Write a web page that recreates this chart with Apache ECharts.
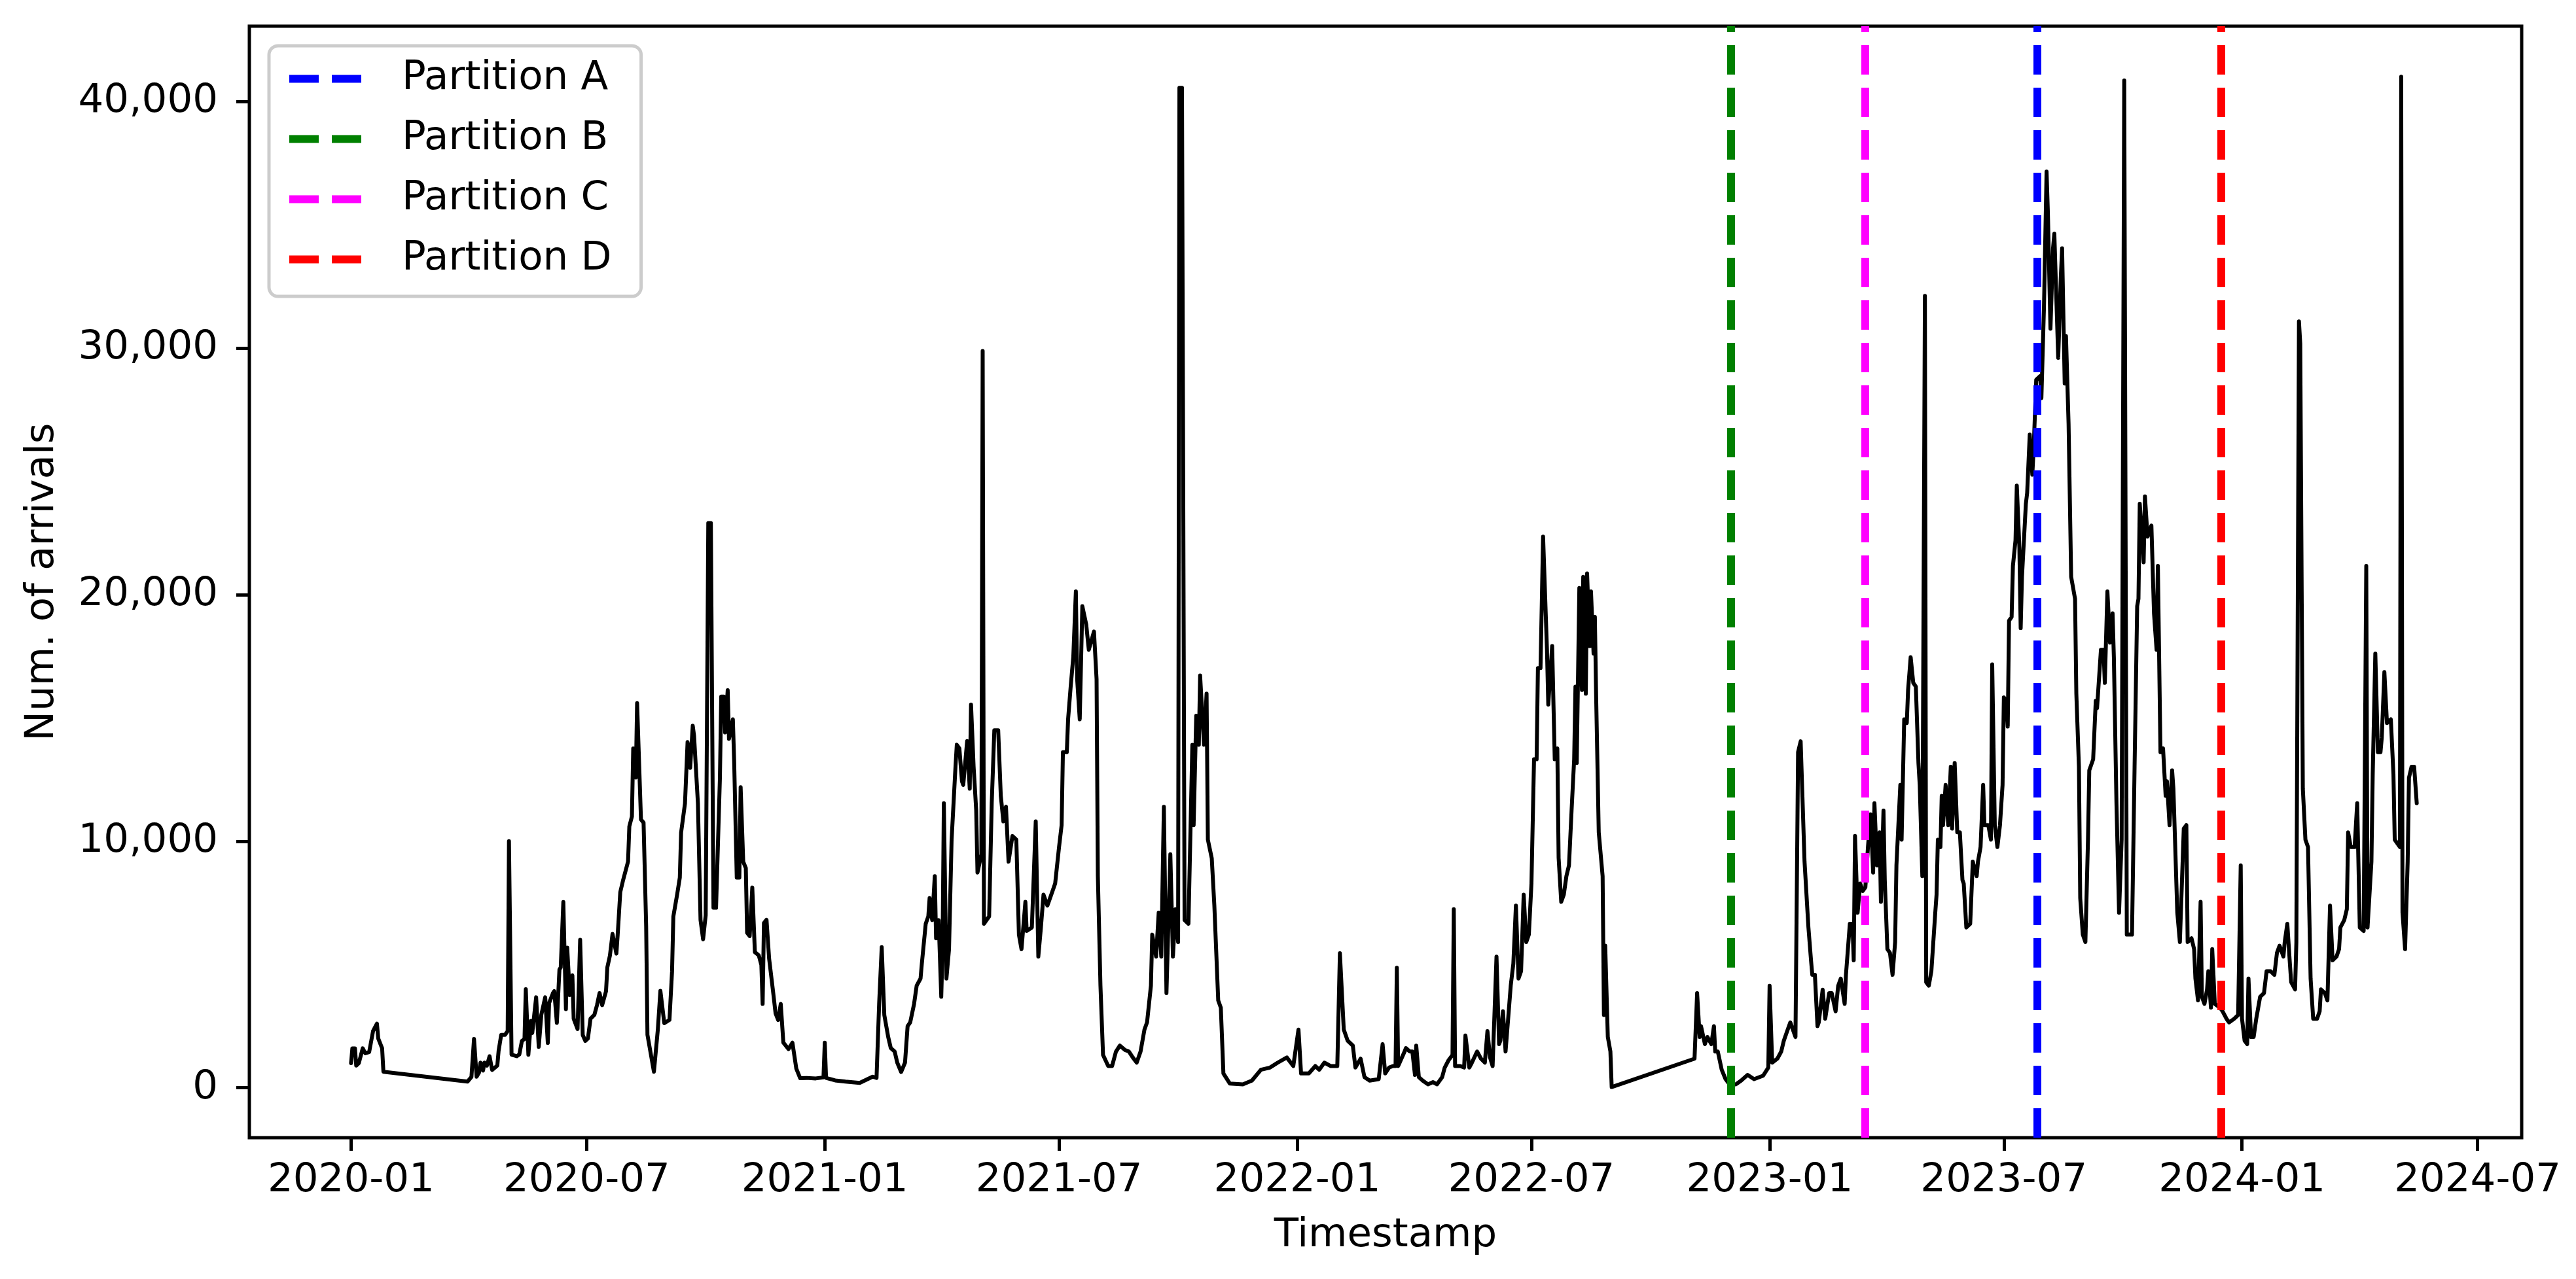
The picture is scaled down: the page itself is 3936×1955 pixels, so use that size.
<!DOCTYPE html>
<html>
<head>
<meta charset="utf-8">
<script src="https://cdn.jsdelivr.net/npm/echarts@6/dist/echarts.min.js"></script>
<style>
html,body{margin:0;padding:0;background:#ffffff;}
#chart{width:3936px;height:1955px;}
</style>
</head>
<body>
<div id="chart"></div>
<script>
// ---------- DATA ----------
const arrivals2020 = [
['2020-01-01',1000],['2020-01-02',1600],['2020-01-04',1600],['2020-01-05',900],['2020-01-07',1000],['2020-01-10',1600],['2020-01-12',1400],['2020-01-15',1450],['2020-01-18',2300],['2020-01-21',2600],['2020-01-22',2000],['2020-01-25',1600],['2020-01-26',650],
['2020-03-31',250],['2020-04-03',440],['2020-04-05',1980],['2020-04-07',450],['2020-04-09',630],['2020-04-10',1020],['2020-04-12',700],['2020-04-13',1020],['2020-04-15',900],['2020-04-17',1280],['2020-04-19',720],['2020-04-23',900],['2020-04-24',1500],['2020-04-26',2150],['2020-04-29',2150],['2020-05-01',2300],['2020-05-02',10000],['2020-05-03',10000],['2020-05-04',1340],['2020-05-08',1280],['2020-05-10',1350],['2020-05-12',1900],['2020-05-14',1980],['2020-05-15',4000],['2020-05-17',1340],['2020-05-19',2710],['2020-05-20',2220],['2020-05-23',3670],['2020-05-25',1660],['2020-05-27',2960],['2020-05-30',3670],['2020-06-01',1820],['2020-06-02',3430],['2020-06-05',3840],['2020-06-06',3920],['2020-06-08',2630],['2020-06-10',4800],['2020-06-11',4880],['2020-06-13',7530],['2020-06-15',3190],['2020-06-16',5680],['2020-06-18',3760],['2020-06-20',4560],['2020-06-21',2800],['2020-06-24',2380],['2020-06-26',6000],['2020-06-28',2140],['2020-06-30',1900],['2020-07-02',2000],['2020-07-04',2800],['2020-07-07',2960],['2020-07-09',3350],['2020-07-11',3840],['2020-07-13',3350],['2020-07-16',3920],['2020-07-17',4880],['2020-07-19',5360],['2020-07-21',6240],['2020-07-24',5440],['2020-07-25',6200],['2020-07-27',7935],
['2020-07-29',8380],['2020-08-02',9170],['2020-08-03',10600],['2020-08-05',11000],['2020-08-06',13760],['2020-08-08',12580],['2020-08-09',15600],['2020-08-12',10880],['2020-08-14',10750],['2020-08-16',6550],['2020-08-17',2150],['2020-08-22',650],['2020-08-25',2350],['2020-08-27',3930],['2020-08-30',2620],['2020-08-31',2620],['2020-09-03',2750],['2020-09-05',4710],['2020-09-06',6940],['2020-09-09',7860],['2020-09-11',8520],['2020-09-12',10350],['2020-09-15',11530],['2020-09-17',14020],['2020-09-19',12970],['2020-09-21',14680],['2020-09-22',14280],['2020-09-25',11530],['2020-09-27',6810],['2020-09-29',6020],['2020-10-01',7000],['2020-10-03',22900],['2020-10-05',22900],['2020-10-07',7300],['2020-10-09',7300],['2020-10-12',12580],['2020-10-13',15860],['2020-10-15',15860],['2020-10-16',14410],['2020-10-18',16120],['2020-10-19',14150],['2020-10-22',14940],['2020-10-23',13230],['2020-10-25',8520],['2020-10-27',8520],['2020-10-28',12190],['2020-10-30',9170],['2020-11-01',8910],['2020-11-02',6280],['2020-11-04',6150],['2020-11-06',8120],['2020-11-08',5500],['2020-11-11',5370],['2020-11-13',4980],['2020-11-14',3400],['2020-11-15',6680],['2020-11-17',6810],['2020-11-19',5240],['2020-11-20',5240],['2020-11-22',3930],['2020-11-24',3010],['2020-11-26',2750],['2020-11-28',3400],['2020-11-30',1830],['2020-12-02',1700],['2020-12-04',1570],['2020-12-07',1830],['2020-12-10',780],['2020-12-13',390],['2020-12-18',400],['2020-12-25',380],['2020-12-31',420]
];
const arrivals2021 = [
['2021-01-01',1830],['2021-01-02',400],['2021-01-09',300],['2021-01-17',250],['2021-01-28',200],['2021-02-07',450],['2021-02-10',400],['2021-02-12',3400],['2021-02-14',5700],['2021-02-16',2950],['2021-02-19',2060],['2021-02-21',1610],['2021-02-24',1470],['2021-02-26',1020],['2021-03-01',640],['2021-03-04',1020],['2021-03-06',2500],['2021-03-08',2650],['2021-03-11',3400],['2021-03-13',4140],['2021-03-16',4430],['2021-03-17',5030],['2021-03-20',6650],['2021-03-22',6950],['2021-03-23',7690],['2021-03-25',6800],['2021-03-27',8580],['2021-03-28',6060],['2021-03-30',6800],['2021-04-01',3690],['2021-04-02',5620],['2021-04-03',11540],['2021-04-05',4430],['2021-04-07',5620],['2021-04-09',10060],['2021-04-12',13020],['2021-04-13',13910],['2021-04-15',13760],['2021-04-17',12430],['2021-04-18',12280],['2021-04-21',14060],['2021-04-23',12130],['2021-04-24',15540],['2021-04-26',13020],['2021-04-28',11250],['2021-04-29',8730],['2021-05-02',9470],['2021-05-03',29880],['2021-05-04',6650],['2021-05-08',6950],['2021-05-10',11540],['2021-05-12',14500],['2021-05-15',14500],['2021-05-17',11840],['2021-05-19',10800],['2021-05-21',11400],['2021-05-23',9170],['2021-05-26',10210],['2021-05-29',10060],['2021-05-31',6210],['2021-06-02',5620],['2021-06-05',7540],['2021-06-06',6360],['2021-06-10',6500],['2021-06-13',10800],['2021-06-15',5320],['2021-06-17',6500],['2021-06-19',7830],['2021-06-22',7390],['2021-06-25',7830],['2021-06-28',8280],['2021-07-01',9760],['2021-07-03',10650],['2021-07-04',13610],['2021-07-07',13610],['2021-07-08',14940],['2021-07-10',16270],['2021-07-12',17460],['2021-07-14',20125],['2021-07-15',16570],['2021-07-17',14940],['2021-07-19',19530],['2021-07-20',19530],['2021-07-22',18790],['2021-07-24',17760],['2021-07-25',17760],['2021-07-28',18500],['2021-07-30',16570],['2021-07-31',8580],['2021-08-02',4140],['2021-08-04',1330],['2021-08-08',880],['2021-08-11',880],['2021-08-14',1470],['2021-08-17',1710],['2021-08-21',1530],['2021-08-24',1470],['2021-08-27',1230],['2021-08-30',1020],['2021-09-02',1470],['2021-09-05',2360],['2021-09-07',2650],['2021-09-10',4140],['2021-09-11',6210],['2021-09-14',5320],['2021-09-16',7100],['2021-09-18',5320],['2021-09-20',11390],['2021-09-22',3840],['2021-09-25',9470],['2021-09-27',5320],['2021-09-29',7240],['2021-10-01',5910],['2021-10-02',40550],['2021-10-04',40550],['2021-10-06',6800],['2021-10-09',6650],['2021-10-12',13910],['2021-10-13',10650],['2021-10-15',15090],['2021-10-17',13910],['2021-10-18',16720],['2021-10-21',13910],['2021-10-23',15980],['2021-10-24',10060],['2021-10-27',9310],['2021-10-29',7390],['2021-11-01',3540],['2021-11-03',3250],['2021-11-05',580],['2021-11-10',170],['2021-11-20',140],['2021-11-27',290],['2021-12-04',730],['2021-12-11',820],['2021-12-17',1020],['2021-12-24',1230],['2021-12-29',880]
];
const arrivals2022 = [
['2022-01-02',2360],['2022-01-04',580],['2022-01-10',580],['2022-01-15',880],['2022-01-18',730],['2022-01-22',1020],['2022-01-27',880],['2022-02-01',880],['2022-02-03',5460],['2022-02-06',2360],['2022-02-09',1910],['2022-02-13',1710],['2022-02-15',820],['2022-02-19',1180],['2022-02-22',430],['2022-02-26',290],['2022-03-05',350],['2022-03-08',1770],['2022-03-10',580],['2022-03-13',820],['2022-03-16',880],['2022-03-18',880],['2022-03-19',4870],['2022-03-20',880],['2022-03-25',1470],['2022-03-26',1610],['2022-03-29',1470],['2022-03-31',1470],['2022-04-02',520],['2022-04-03',1710],['2022-04-05',430],['2022-04-08',290],['2022-04-12',140],['2022-04-16',230],['2022-04-19',140],['2022-04-23',430],['2022-04-25',820],['2022-04-28',1120],['2022-05-01',1330],['2022-05-02',7240],['2022-05-03',880],['2022-05-07',880],['2022-05-10',820],['2022-05-11',2120],['2022-05-14',820],['2022-05-16',1020],['2022-05-20',1470],['2022-05-23',1180],['2022-05-26',1020],['2022-05-28',2300],['2022-05-30',1230],['2022-06-01',880],['2022-06-04',5320],['2022-06-06',1770],['2022-06-07',1910],['2022-06-09',3100],['2022-06-11',1470],['2022-06-13',2800],['2022-06-15',4140],['2022-06-17',5030],['2022-06-19',7390],['2022-06-21',4430],['2022-06-23',4730],['2022-06-25',7830],['2022-06-27',5910],['2022-06-29',6210],['2022-07-01',8280],['2022-07-03',13320],['2022-07-05',13320],['2022-07-06',17020],['2022-07-08',17020],['2022-07-10',22350],['2022-07-13',17760],['2022-07-14',15540],['2022-07-17',17910],['2022-07-19',13320],['2022-07-21',13760],['2022-07-22',9320],['2022-07-24',7540],['2022-07-26',7830],['2022-07-28',8580],['2022-07-30',9020],['2022-08-01',11240],['2022-08-03',13320],['2022-08-04',16270],['2022-08-05',13170],['2022-08-07',20270],['2022-08-09',16130],['2022-08-10',20720],['2022-08-12',15980],['2022-08-13',20860],['2022-08-15',17910],['2022-08-16',20130],['2022-08-18',17610],['2022-08-19',19090],['2022-08-20',15840],['2022-08-22',10360],['2022-08-25',8580],['2022-08-26',2950],['2022-08-27',5760],['2022-08-29',2060],['2022-08-31',1470],['2022-09-01',30],
['2022-11-04',1180],['2022-11-06',3840],['2022-11-08',2060],['2022-11-09',2500],['2022-11-12',1770],['2022-11-14',2060],['2022-11-17',1770],['2022-11-19',2500],['2022-11-20',1470],['2022-11-22',1470],['2022-11-25',730],['2022-11-28',350],['2022-12-01',140],['2022-12-06',140],['2022-12-10',290],['2022-12-15',520],['2022-12-20',350],['2022-12-27',490],['2022-12-31',820]
];
const arrivals2023 = [
['2023-01-01',4140],['2023-01-03',1020],['2023-01-07',1180],['2023-01-10',1470],['2023-01-12',1910],['2023-01-15',2360],['2023-01-17',2650],['2023-01-21',2060],['2023-01-23',13610],['2023-01-25',14050],['2023-01-28',9170],['2023-01-31',6500],['2023-02-02',5170],['2023-02-03',4580],['2023-02-05',4580],['2023-02-07',2500],['2023-02-08',2650],['2023-02-11',3980],['2023-02-13',2800],['2023-02-16',3840],['2023-02-18',3840],['2023-02-21',3100],['2023-02-23',4140],['2023-02-25',4430],['2023-02-28',3400],['2023-03-01',4580],['2023-03-04',6650],['2023-03-06',6650],['2023-03-07',5170],['2023-03-08',10210],['2023-03-10',7100],['2023-03-12',8280],['2023-03-14',7980],['2023-03-16',8130],['2023-03-18',9760],['2023-03-20',11090],['2023-03-22',8730],['2023-03-23',11540],['2023-03-25',9020],['2023-03-27',10360],['2023-03-28',7540],['2023-03-30',11240],['2023-03-31',8430],['2023-04-02',5620],['2023-04-04',5470],['2023-04-06',4580],['2023-04-08',5910],['2023-04-09',9020],['2023-04-12',12280],['2023-04-13',10060],['2023-04-15',14940],['2023-04-17',14790],['2023-04-18',16130],['2023-04-20',17460],['2023-04-22',16420],['2023-04-24',16270],['2023-04-26',13170],['2023-04-27',12280],['2023-04-29',8580],['2023-05-01',32110],['2023-05-02',4280],['2023-05-04',4140],['2023-05-06',4730],['2023-05-09',7100],['2023-05-10',7830],['2023-05-11',10060],['2023-05-13',9760],['2023-05-14',11840],['2023-05-15',10650],['2023-05-17',12280],['2023-05-19',10650],['2023-05-21',13020],['2023-05-22',10510],['2023-05-24',13170],['2023-05-26',10360],['2023-05-28',10360],['2023-05-30',8430],['2023-05-31',8280],['2023-06-02',6500],['2023-06-05',6650],['2023-06-07',9170],['2023-06-10',8580],['2023-06-11',9170],['2023-06-13',9760],['2023-06-15',12280],['2023-06-16',10650],['2023-06-19',10650],['2023-06-21',10060],['2023-06-22',17170],['2023-06-24',10650],['2023-06-26',9760],['2023-06-28',10650],['2023-06-30',12280],['2023-07-01',15830],['2023-07-03',15690],['2023-07-04',14650],['2023-07-05',18940],['2023-07-07',19090],['2023-07-08',21160],['2023-07-10',22200],['2023-07-11',24420],['2023-07-13',21900],['2023-07-14',18640],['2023-07-15',20720],['2023-07-18',23680],['2023-07-19',24120],['2023-07-21',26490],['2023-07-23',24860],['2023-07-24',25900],['2023-07-26',28710],['2023-07-29',28860],['2023-07-30',27970],['2023-08-01',31670],['2023-08-03',37150],['2023-08-04',35520],['2023-08-06',30780],['2023-08-08',34040],['2023-08-09',34630],['2023-08-12',29600],['2023-08-14',32860],['2023-08-15',34040],['2023-08-17',28560],['2023-08-18',30480],['2023-08-20',26930],['2023-08-22',20720],['2023-08-25',19830],['2023-08-26',15980],['2023-08-28',13020],['2023-08-29',7690],['2023-08-31',6210],['2023-09-02',5910],['2023-09-04',10060],['2023-09-05',12870],['2023-09-08',13320],['2023-09-10',15690],['2023-09-11',15390],['2023-09-14',17760],['2023-09-16',17760],['2023-09-17',16420],['2023-09-19',20130],['2023-09-21',18050],['2023-09-23',19240],['2023-09-24',17460],['2023-09-26',11540],['2023-09-28',7100],['2023-09-30',10060],['2023-10-02',40850],['2023-10-04',6210],['2023-10-08',6210],['2023-10-10',13020],['2023-10-12',19530],['2023-10-13',19830],['2023-10-14',23680],['2023-10-17',21310],['2023-10-18',23980],['2023-10-20',22350],['2023-10-23',22800],['2023-10-25',19240],['2023-10-27',17760],['2023-10-28',21160],['2023-10-30',13610],['2023-11-01',13760],['2023-11-03',11840],['2023-11-04',12430],['2023-11-06',10650],['2023-11-08',12870],['2023-11-09',12130],['2023-11-12',7100],['2023-11-14',5910],['2023-11-17',10510],['2023-11-19',10650],['2023-11-20',5910],['2023-11-23',6060],['2023-11-25',5620],['2023-11-26',4430],['2023-11-28',3540],['2023-11-30',7540],['2023-12-01',3690],['2023-12-03',3400],['2023-12-05',3990],['2023-12-06',4730],['2023-12-08',3250],['2023-12-09',5620],['2023-12-11',3400],['2023-12-15',3250],['2023-12-17',3100],['2023-12-20',2800],['2023-12-22',2650],['2023-12-26',2800],['2023-12-29',2950],['2023-12-31',9020]
];
const arrivals2024 = [
['2024-01-01',2800],['2024-01-03',1910],['2024-01-05',1770],['2024-01-06',4430],['2024-01-08',2060],['2024-01-10',2060],['2024-01-12',2800],['2024-01-15',3690],['2024-01-18',3840],['2024-01-20',4730],['2024-01-23',4730],['2024-01-26',4580],['2024-01-28',5470],['2024-01-30',5760],['2024-02-02',5320],['2024-02-03',5910],['2024-02-05',6650],['2024-02-07',5030],['2024-02-08',4280],['2024-02-11',3990],['2024-02-12',5910],['2024-02-14',31080],['2024-02-15',30180],['2024-02-17',12130],['2024-02-19',10060],['2024-02-21',9760],['2024-02-23',4430],['2024-02-25',2800],['2024-02-28',2800],['2024-03-01',3100],['2024-03-02',3990],['2024-03-05',3840],['2024-03-07',3540],['2024-03-09',7390],['2024-03-10',7390],['2024-03-11',5170],['2024-03-14',5320],['2024-03-16',5620],['2024-03-17',6500],['2024-03-20',6800],['2024-03-22',7240],['2024-03-23',10360],['2024-03-25',9760],['2024-03-28',9760],['2024-03-30',11540],['2024-04-01',6500],['2024-04-04',6360],['2024-04-06',21160],['2024-04-07',6500],['2024-04-08',6500],['2024-04-10',9170],['2024-04-11',12720],['2024-04-13',17610],['2024-04-15',13610],['2024-04-17',13610],['2024-04-18',14200],['2024-04-20',16860],['2024-04-22',14790],['2024-04-25',14940],['2024-04-27',12720],['2024-04-28',10060],['2024-05-02',9760],['2024-05-03',41000],['2024-05-04',7100],['2024-05-06',5620],['2024-05-08',9170],['2024-05-09',12570],['2024-05-11',13020],['2024-05-13',13020],['2024-05-15',11540]
];

const partitionNames  = ['Partition A', 'Partition B', 'Partition C', 'Partition D'];
const partitionDates  = ['2023-07-27', '2022-12-02', '2023-03-16', '2023-12-16'];
const partitionColors = ['#0000ff', '#008000', '#ff00ff', '#ff0000'];

const xTickLabels = ['2020-01','2020-07','2021-01','2021-07','2022-01','2022-07','2023-01','2023-07','2024-01','2024-07'];
const yTickValues = [0, 10000, 20000, 30000, 40000];

// ---------- BUILD ----------
function toTime(s) { const p = s.split('-'); return new Date(+p[0], +p[1] - 1, p[2] ? +p[2] : 1).getTime(); }
const arrivals = [].concat(arrivals2020, arrivals2021, arrivals2022, arrivals2023, arrivals2024)
  .map(d => [toTime(d[0]), d[1]]);
const FONT = 'DejaVu Sans';
const FS = 61;
const xTickValues = xTickLabels.map(toTime);
function fmtX(v) { const d = new Date(v); return d.getFullYear() + '-' + String(d.getMonth() + 1).padStart(2, '0'); }

const DASH = [45, 20];
const partitionSeries = partitionNames.map((name, i) => ({
  name: name,
  type: 'line',
  data: [],
  symbol: 'none',
  color: partitionColors[i],
  lineStyle: { color: partitionColors[i], width: 12, type: DASH },
  z: 5,
  markLine: {
    silent: true,
    symbol: ['none', 'none'],
    label: { show: false },
    animation: false,
    lineStyle: { color: partitionColors[i], width: 12, type: DASH, cap: 'butt' },
    data: [{ xAxis: toTime(partitionDates[i]) }]
  }
}));

const chart = echarts.init(document.getElementById('chart'), null, { renderer: 'canvas' });
chart.setOption({
  animation: false,
  backgroundColor: '#ffffff',
  grid: { left: 381, right: 83, top: 40, bottom: 216, show: true, borderColor: '#000', borderWidth: 5, backgroundColor: 'transparent', containLabel: false },
  legend: {
    data: partitionNames,
    orient: 'vertical',
    left: 411, top: 70,
    itemWidth: 111, itemHeight: 14, itemGap: 31,
    padding: [20, 45, 26, 25],
    backgroundColor: 'rgba(255,255,255,0.8)',
    borderColor: '#cccccc', borderWidth: 5, borderRadius: 14,
    lineStyle: { width: 12, type: DASH },
    itemStyle: { opacity: 0 },
    textStyle: { fontFamily: FONT, fontSize: FS, color: '#000', padding: [0, 0, 0, 56] },
    selectedMode: false
  },
  xAxis: {
    type: 'value',
    min: new Date(2019, 9, 14, 10).getTime(),
    max: new Date(2024, 7, 4, 2).getTime(),
    name: 'Timestamp', nameLocation: 'middle', nameGap: 120,
    nameTextStyle: { fontFamily: FONT, fontSize: FS, color: '#000' },
    axisLine: { show: false, onZero: false },
    axisTick: { show: true, customValues: xTickValues, length: 20, lineStyle: { color: '#000', width: 5 } },
    axisLabel: { customValues: xTickValues, formatter: fmtX, fontFamily: FONT, fontSize: FS, color: '#000', margin: 36 },
    splitLine: { show: false }
  },
  yAxis: {
    type: 'value',
    min: -2024, max: 43049,
    name: 'Num. of arrivals', nameLocation: 'middle', nameGap: 285,
    nameTextStyle: { fontFamily: FONT, fontSize: FS, color: '#000' },
    axisLine: { show: false, onZero: false },
    axisTick: { show: true, customValues: yTickValues, length: 20, lineStyle: { color: '#000', width: 5 } },
    axisLabel: { customValues: yTickValues, formatter: v => v.toLocaleString('en-US'), fontFamily: FONT, fontSize: FS, color: '#000', margin: 48 },
    splitLine: { show: false }
  },
  series: [{
    name: 'Arrivals',
    type: 'line',
    data: arrivals,
    symbol: 'none', showSymbol: false,
    lineStyle: { color: '#000', width: 6, join: 'round', cap: 'round' },
    z: 3
  }].concat(partitionSeries)
});
</script>
</body>
</html>
